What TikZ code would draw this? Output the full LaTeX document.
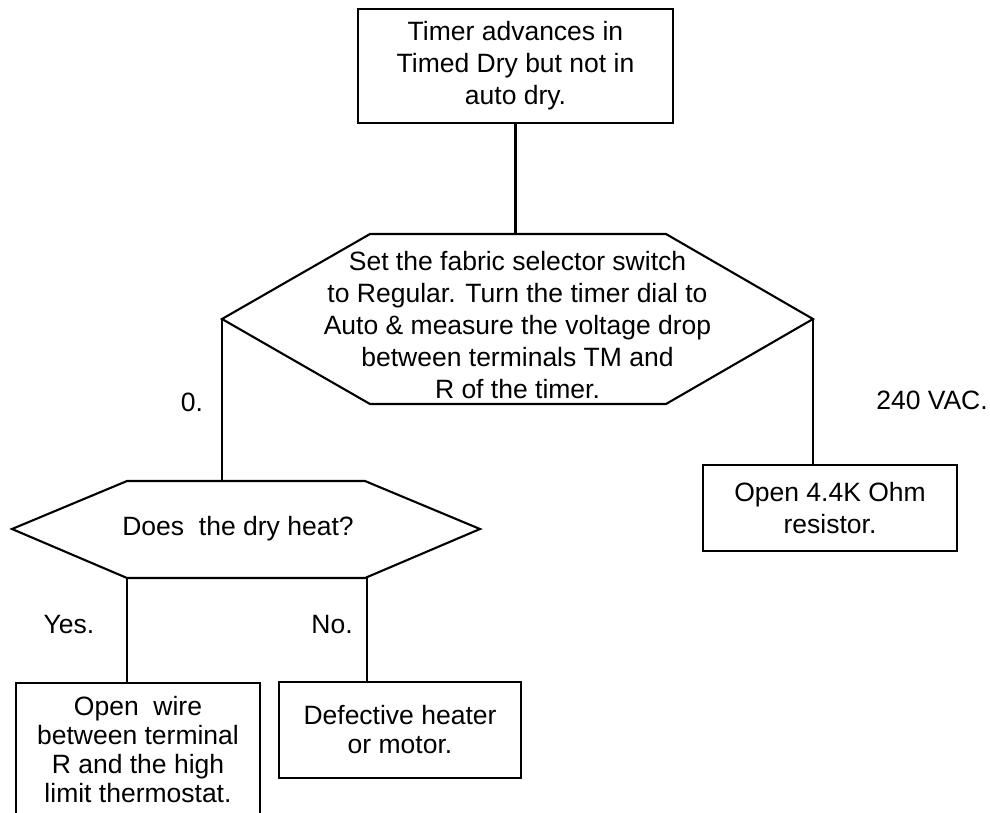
\documentclass[tikz,border=0pt]{standalone}
\usepackage{fontspec}
\setmainfont{Liberation Sans}
\begin{document}
\begin{tikzpicture}[x=1pt,y=-1pt,line width=2.1pt,line join=miter,
  txt/.style={font=\fontsize{26.5}{32}\selectfont,align=center,inner sep=0pt},
  txtb/.style={font=\fontsize{26.5}{29}\selectfont,align=center,inner sep=0pt},
  boxed/.style={draw,inner sep=0pt}]
\useasboundingbox (0,0) rectangle (990,812);
\clip (0,0) rectangle (990,812);
% top box
\node[boxed,txt,minimum width=315pt,minimum height=114pt] (top) at (515.5,66)
  {Timer advances in\\Timed Dry but not in\\auto dry.};
% hexagon 1
\coordinate (h1tl) at (370,234);
\coordinate (h1tr) at (666,234);
\coordinate (h1r) at (813,319);
\coordinate (h1br) at (666,404);
\coordinate (h1bl) at (370,404);
\coordinate (h1l) at (222,319);
\draw (h1tl) -- (h1tr) -- (h1r) -- (h1br) -- (h1bl) -- (h1l) -- cycle;
\node[txt] (h1) at (517.5,325)
  {Set the fabric selector switch\\to Regular. Turn the timer dial to\\Auto \& measure the voltage drop\\between terminals TM and\\R of the timer.};
\coordinate (h1t) at (top.south |- h1tl);
\draw (top.south) -- (h1t);
% right branch
\node[boxed,txt,minimum width=254pt,minimum height=86pt] (res) at (830,508)
  {Open 4.4K Ohm\\resistor.};
\draw (h1r) -- (h1r |- res.north);
\node[txt] (vac) at (932,400) {240 VAC.};
% left branch
\coordinate (h2tl) at (127,481);
\coordinate (h2tr) at (365,481);
\coordinate (h2r) at (480,529);
\coordinate (h2br) at (365,578);
\coordinate (h2bl) at (127,578);
\coordinate (h2l) at (12,529);
\draw (h2tl) -- (h2tr) -- (h2r) -- (h2br) -- (h2bl) -- (h2l) -- cycle;
\node[txt] (h2) at (238,529) {Does~~the dry heat?};
\draw (h1l) -- (h1l |- h2tl);
\node[txt] (zero) at (192,402) {0.};
% bottom boxes
\node[boxed,minimum width=244pt,minimum height=150pt,anchor=north] (b1) at (138,682) {};
\node[txtb,anchor=north] (b1t) at ([yshift=-13pt]b1.north)
  {Open~~wire\\between terminal\\R and the high\\limit thermostat.};
\node[boxed,txtb,minimum width=242pt,minimum height=96pt] (b2) at (400,730)
  {Defective heater\\or motor.};
\draw (h2bl) -- (h2bl |- b1.north);
\draw ([xshift=2pt]h2br) -- ([xshift=2pt]h2br |- b2.north);
\node[txt] (yes) at (69,625) {Yes.};
\node[txt] (no) at (332,625) {No.};
\end{tikzpicture}
\end{document}
